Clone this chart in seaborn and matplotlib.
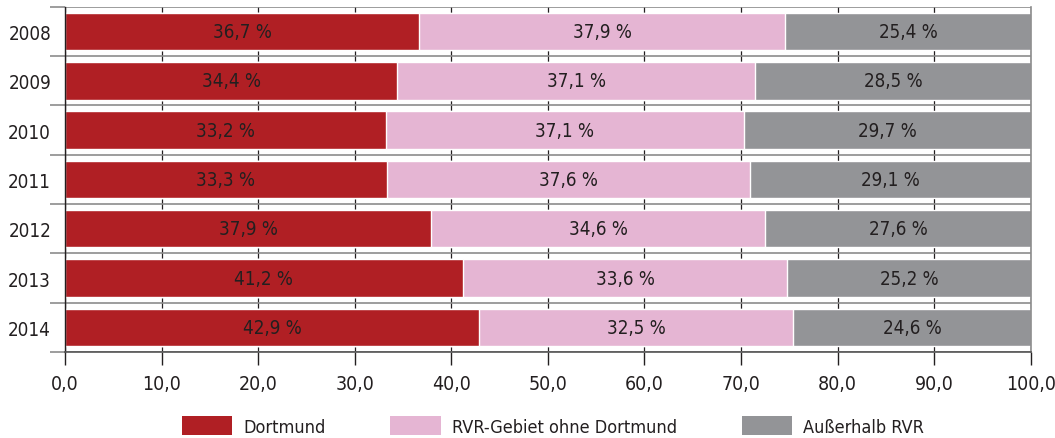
import numpy as np
import pandas as pd
import matplotlib
matplotlib.use("Agg")
import matplotlib.pyplot as plt
from matplotlib.patches import Patch
from matplotlib.ticker import MultipleLocator, FixedLocator, FuncFormatter
import seaborn as sns

years = ["2008", "2009", "2010", "2011", "2012", "2013", "2014"]
dortmund = [36.7, 34.4, 33.2, 33.3, 37.9, 41.2, 42.9]
rvr = [37.9, 37.1, 37.1, 37.6, 34.6, 33.6, 32.5]
ausserhalb = [25.4, 28.5, 29.7, 29.1, 27.6, 25.2, 24.6]
labels = ["Dortmund", "RVR-Gebiet ohne Dortmund", "Außerhalb RVR"]
colors = ["#B01F24", "#E5B5D3", "#939497"]

sns.set_style("white")
plt.rcParams['font.family'] = ['DejaVu Sans']
plt.rcParams['font.stretch'] = 'condensed'
plt.rcParams['text.color'] = '#231F20'
plt.rcParams['xtick.color'] = '#231F20'
plt.rcParams['ytick.color'] = '#231F20'

df = pd.DataFrame({"year": years, "d": dortmund, "r": rvr, "a": ausserhalb})
df["cum_r"] = df["d"] + df["r"]
df["cum_a"] = df["cum_r"] + df["a"]

fig = plt.figure(figsize=(10.55, 4.39), dpi=100)
ax = fig.add_axes([0.0616, 0.196, 0.9154, 0.786])

# stacked by overdrawing cumulative totals
sns.barplot(data=df, x="cum_a", y="year", color=colors[2], width=0.76, saturation=1, ax=ax, zorder=2)
sns.barplot(data=df, x="cum_r", y="year", color=colors[1], width=0.76, saturation=1, ax=ax, zorder=2)
sns.barplot(data=df, x="d", y="year", color=colors[0], width=0.76, saturation=1, ax=ax, zorder=2)

for i in range(len(years)):
    segs = [(0, df["d"][i]), (df["d"][i], df["r"][i]), (df["cum_r"][i], df["a"][i])]
    for start, val in segs:
        ax.text(start + val / 2, i, f"{val:.1f} %".replace(".", ","),
                ha="center", va="center", fontsize=13.5, zorder=3)

ax.set_xlim(0, 100)
ax.set_ylim(len(years) - 0.5, -0.5)
ax.xaxis.set_major_locator(MultipleLocator(10))
ax.xaxis.set_major_formatter(FuncFormatter(lambda v, p: f"{v:.1f}".replace(".", ",")))
ax.yaxis.set_minor_locator(FixedLocator(np.arange(-0.5, len(years), 1)))
ax.set_xlabel("")
ax.set_ylabel("")

ax.grid(axis="x", which="major", color="#231F20", linewidth=0.9, zorder=1)
ax.grid(axis="y", which="minor", color="#8C8C8C", linewidth=1.2, zorder=1)
ax.set_axisbelow(True)
ax.tick_params(axis="x", which="major", direction="out", length=9, width=1,
               labelsize=14, pad=7, bottom=True)
ax.tick_params(axis="y", which="major", length=0, labelsize=13.5, pad=10)
ax.tick_params(axis="y", which="minor", direction="out", length=11, width=1.2,
               color="#8C8C8C", left=True)

ax.spines["top"].set_visible(False)
ax.spines["right"].set_color("#8C8C8C")
ax.spines["right"].set_linewidth(1.2)
ax.spines["left"].set_color("#231F20")
ax.spines["left"].set_linewidth(1)
ax.spines["bottom"].set_color("#555555")
ax.spines["bottom"].set_linewidth(1.2)

handles = [Patch(facecolor=c, edgecolor="none") for c in colors]
fig.legend(handles, labels, loc="center", bbox_to_anchor=(0.524, 0.027), ncol=3,
           frameon=False, fontsize=13, handlelength=2.8, handleheight=1.2,
           handletextpad=0.6, columnspacing=3.6, borderpad=0)

fig.savefig("out.png", dpi=100)
